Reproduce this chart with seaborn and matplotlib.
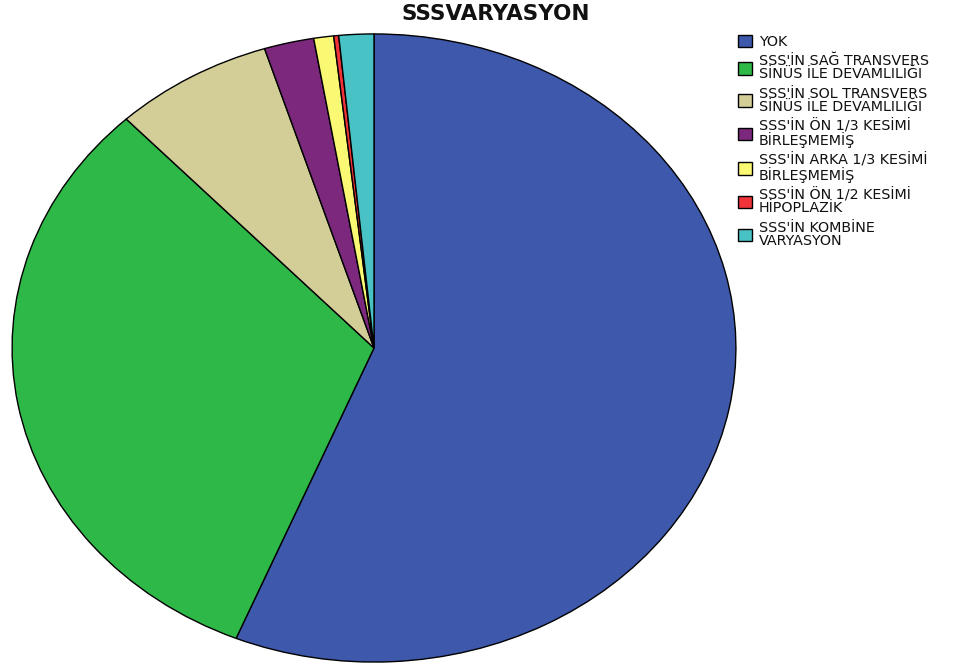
import matplotlib
matplotlib.use("Agg")
import matplotlib.pyplot as plt
import seaborn as sns

sns.set_theme(style="white")
plt.rcParams["font.family"] = ["DejaVu Sans"]

# Category labels, counts and SPSS-style colours
labels = [
    "YOK",
    "SSS'İN SAĞ TRANSVERS\nSİNÜS İLE DEVAMLILIĞI",
    "SSS'İN SOL TRANSVERS\nSİNÜS İLE DEVAMLILIĞI",
    "SSS'İN ÖN 1/3 KESİMİ\nBİRLEŞMEMİŞ",
    "SSS'İN ARKA 1/3 KESİMİ\nBİRLEŞMEMİŞ",
    "SSS'İN ÖN 1/2 KESİMİ\nHİPOPLAZİK",
    "SSS'İN KOMBİNE\nVARYASYON",
]
counts = [253, 143, 32, 10, 4, 1, 7]
colors = ["#3E58AC", "#2EB848", "#D3CE97", "#7C287D", "#FBF873", "#EF3338", "#48C2C5"]
title = "SSSVARYASYON"

W, H = 960, 670
fig = plt.figure(figsize=(W / 100, H / 100), dpi=100)
fig.patch.set_facecolor("white")

# Pie occupies a horizontally stretched ellipse
left, top, right, bottom = 11, 33, 737, 663
ax = fig.add_axes([left / W, 1 - bottom / H, (right - left) / W, (bottom - top) / H])
wedges, _ = ax.pie(
    counts,
    colors=colors,
    startangle=90,
    counterclock=False,
    radius=1.0,
    wedgeprops=dict(edgecolor="black", linewidth=1.0),
)
ax.set_aspect("auto")
ax.set_xlim(-1.003, 1.003)
ax.set_ylim(-1.003, 1.003)
ax.axis("off")

fig.text(496 / W, 1 - 14 / H, title, ha="center", va="center",
         fontsize=15.5, fontweight="bold", color="#111111")

leg = fig.legend(
    wedges, labels,
    loc="upper left",
    bbox_to_anchor=(738 / W, 1 - 35 / H),
    frameon=False,
    fontsize=10.3,
    handlelength=0.95,
    handleheight=0.95,
    handletextpad=0.5,
    labelspacing=0.36,
    borderpad=0.0,
    borderaxespad=0.0,
)
for t in leg.get_texts():
    t.set_linespacing(0.92)
    t.set_color("#111111")

fig.savefig("out.png", dpi=100, facecolor="white")
